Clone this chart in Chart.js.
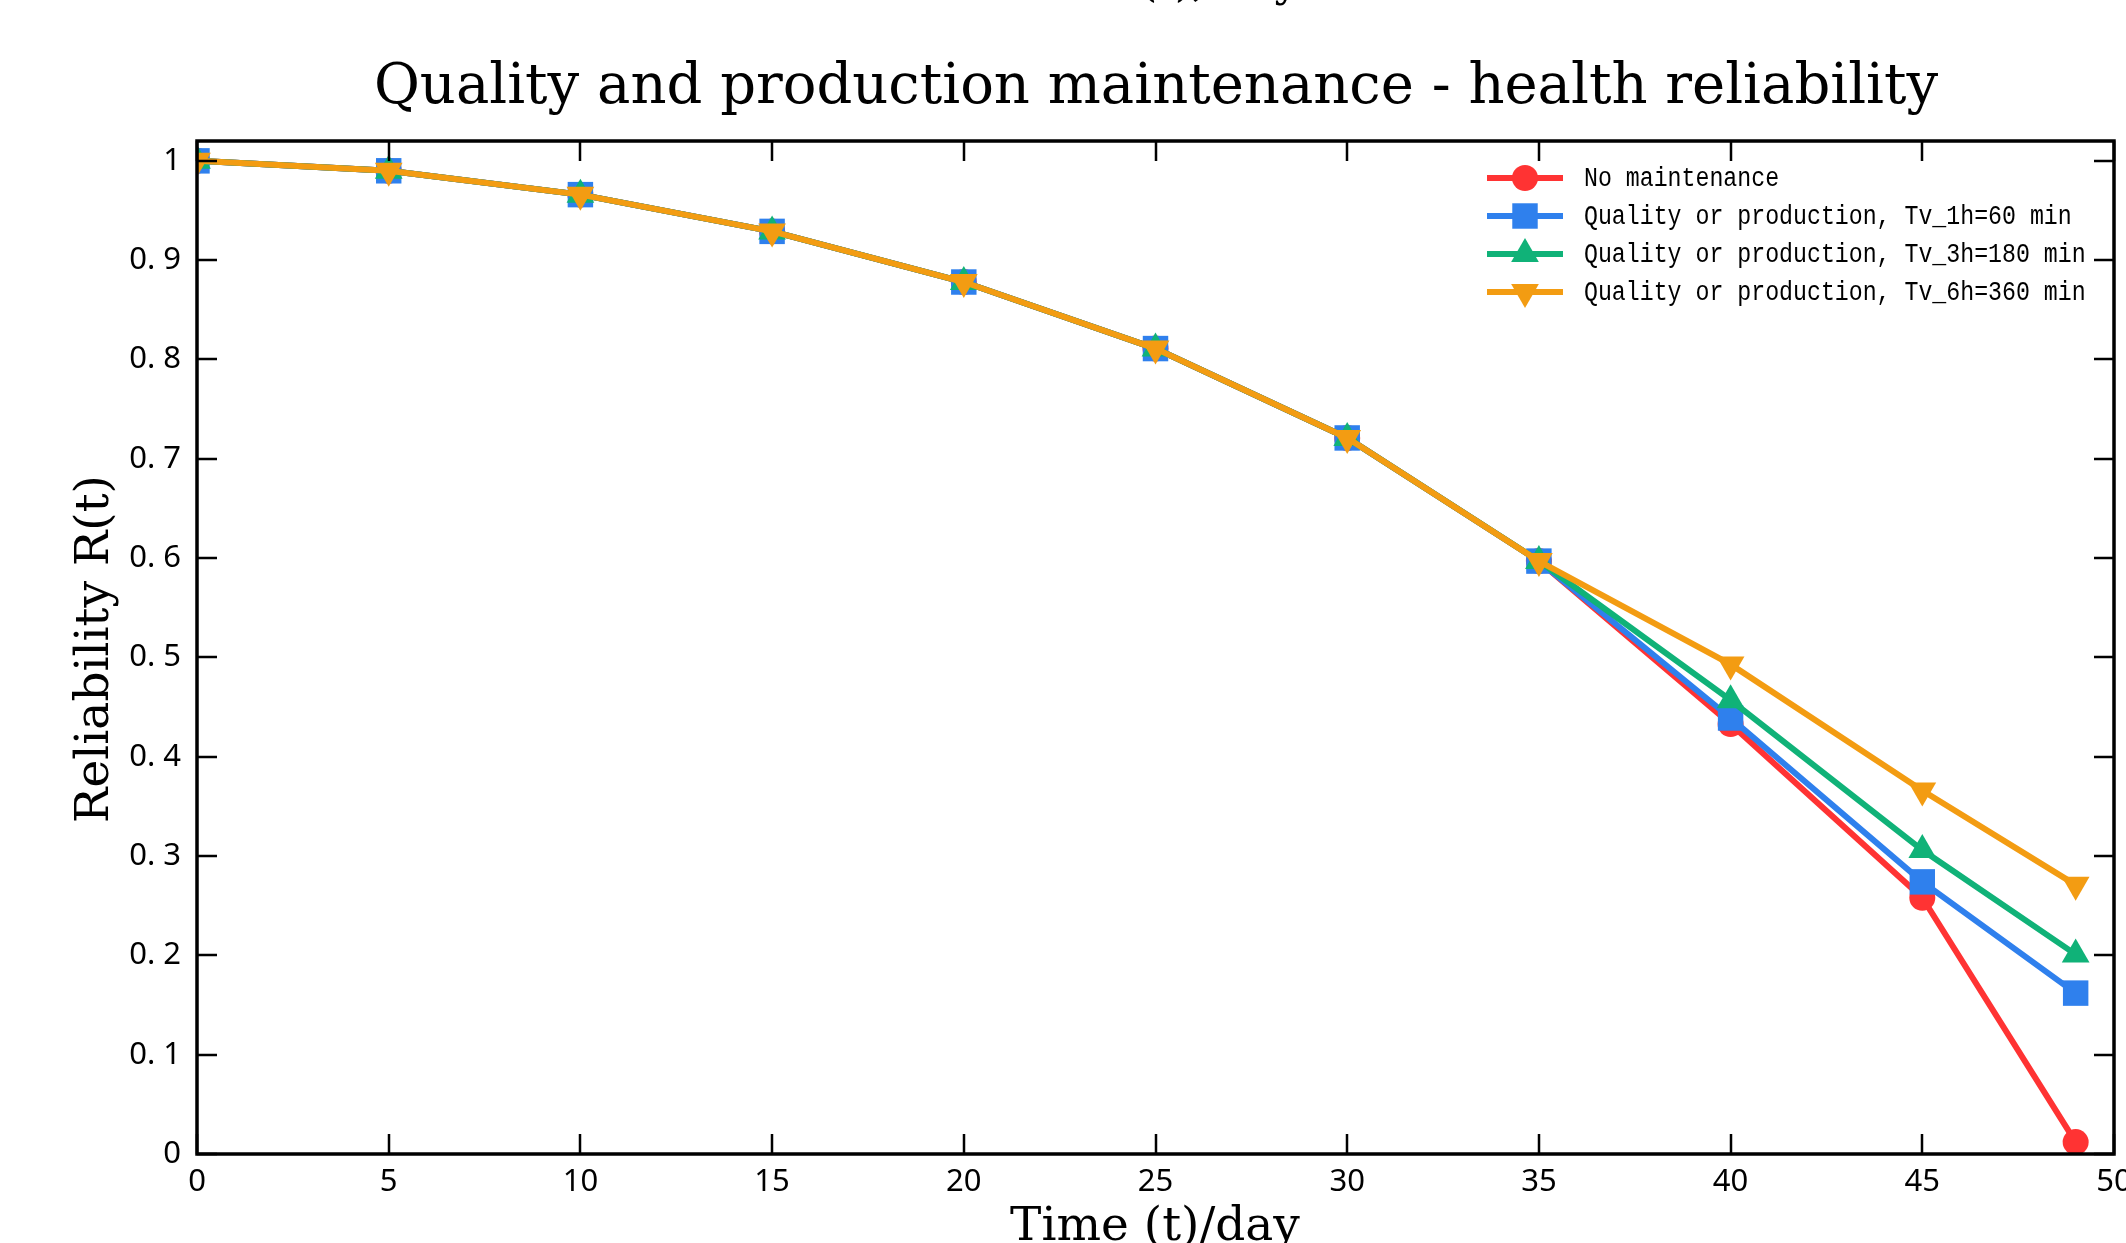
<!DOCTYPE html>
<html>
<head>
<meta charset="utf-8">
<title>Quality and production maintenance - health reliability</title>
<script src="https://cdn.jsdelivr.net/npm/chart.js@4/dist/chart.umd.min.js"></script>
<style>
  html, body { margin: 0; padding: 0; background: #fff; overflow: hidden; }
  canvas { display: block; }
</style>
</head>
<body>
<canvas id="reliabilityChart" width="2126" height="1243"></canvas>
<script>
// time points (days)
const days = [0, 5, 10, 15, 20, 25, 30, 35, 40, 45, 49];

const noMaintenance = [1.0, 0.990, 0.966, 0.929, 0.878, 0.811, 0.721, 0.597, 0.433, 0.258, 0.012];
const tv1h = [1.0, 0.990, 0.966, 0.929, 0.878, 0.811, 0.721, 0.597, 0.439, 0.274, 0.162];
const tv3h = [1.0, 0.990, 0.966, 0.929, 0.878, 0.811, 0.721, 0.597, 0.457, 0.306, 0.201];
const tv6h = [1.0, 0.990, 0.966, 0.929, 0.878, 0.811, 0.721, 0.597, 0.493, 0.366, 0.271];

const seriesNames = [
    'No maintenance',
    'Quality or production, Tv_1h=60 min',
    'Quality or production, Tv_3h=180 min',
    'Quality or production, Tv_6h=360 min'
];

const xTickValues = [0, 5, 10, 15, 20, 25, 30, 35, 40, 45, 50];
const xTickLabels = ['0', '5', '10', '15', '20', '25', '30', '35', '40', '45', '50'];
const yTickValues = [0, 0.1, 0.2, 0.3, 0.4, 0.5, 0.6, 0.7, 0.8, 0.9, 1];
const yTickLabels = ['0', '0. 1', '0. 2', '0. 3', '0. 4', '0. 5', '0. 6', '0. 7', '0. 8', '0. 9', '1'];

const colors = ['rgb(255,51,51)', 'rgb(47,128,237)', 'rgb(16,178,120)', 'rgb(243,156,18)'];
const markers = ['circle', 'rect', 'triangle', 'triangle'];
const markerSizes = [13, 18, 16, 16];
const markerRotation = [0, 0, 0, 180];

function toPoints(values) {
    return days.map((d, i) => ({ x: d, y: values[i] }));
}

const allSeries = [noMaintenance, tv1h, tv3h, tv6h];

const datasets = allSeries.map((values, i) => ({
    label: seriesNames[i],
    data: toPoints(values),
    borderColor: colors[i],
    backgroundColor: colors[i],
    borderWidth: 6,
    pointStyle: markers[i],
    pointRadius: markerSizes[i],
    pointRotation: markerRotation[i],
    pointBorderWidth: 0,
    pointHoverRadius: markerSizes[i],
    tension: 0,
    clip: 0,
    order: 4 - i // last series drawn on top
}));

// frame, inward ticks, titles and legend
const framePlugin = {
    id: 'framePlugin',
    afterDraw(chart) {
        const ctx = chart.ctx;
        const area = chart.chartArea;
        const xs = chart.scales.x;
        const ys = chart.scales.y;
        const tickLen = 20;
        ctx.save();
        ctx.strokeStyle = '#000';
        ctx.lineWidth = 2.5;
        ctx.beginPath();
        xTickValues.forEach(v => {
            const px = Math.round(xs.getPixelForValue(v));
            ctx.moveTo(px, area.bottom);
            ctx.lineTo(px, area.bottom - tickLen);
            ctx.moveTo(px, area.top);
            ctx.lineTo(px, area.top + tickLen);
        });
        yTickValues.forEach(v => {
            const py = Math.round(ys.getPixelForValue(v));
            ctx.moveTo(area.left, py);
            ctx.lineTo(area.left + tickLen, py);
            ctx.moveTo(area.right, py);
            ctx.lineTo(area.right - tickLen, py);
        });
        ctx.stroke();

        ctx.lineWidth = 3.5;
        ctx.strokeRect(area.left, area.top, area.right - area.left, area.bottom - area.top);

        // titles
        ctx.fillStyle = '#000';
        ctx.textAlign = 'left';
        ctx.textBaseline = 'alphabetic';
        ctx.font = '44px "DejaVu Serif"';
        ctx.fillText('(t), day', 1140, -4); // caption cut off at the top edge
        ctx.textAlign = 'center';
        ctx.textBaseline = 'middle';
        ctx.font = '56px "DejaVu Serif"';
        ctx.fillText('Quality and production maintenance - health reliability', 1156, 88);
        ctx.font = '47px "DejaVu Serif"';
        ctx.fillText('Time (t)/day', 1155, 1228);
        ctx.save();
        ctx.translate(96, 649);
        ctx.rotate(-Math.PI / 2);
        ctx.fillText('Reliability R(t)', 0, 0);
        ctx.restore();

        // legend
        const lx0 = 1487, lx1 = 1563, tx = 1584;
        const rows = [178, 216, 254, 292];
        ctx.textAlign = 'left';
        seriesNames.forEach((name, i) => {
            const y = rows[i];
            ctx.strokeStyle = colors[i];
            ctx.lineWidth = 6;
            ctx.beginPath();
            ctx.moveTo(lx0, y);
            ctx.lineTo(lx1, y);
            ctx.stroke();
            ctx.fillStyle = colors[i];
            Chart.helpers.drawPoint(ctx, {
                pointStyle: markers[i],
                rotation: markerRotation[i],
                radius: markerSizes[i],
                borderWidth: 0
            }, (lx0 + lx1) / 2, y);
            ctx.fillStyle = '#000';
            ctx.save();
            ctx.translate(tx, y + 1);
            ctx.scale(0.86, 1);
            ctx.font = '27px "Liberation Mono", "DejaVu Sans Mono", monospace';
            ctx.fillText(name, 0, 0);
            ctx.restore();
        });
        ctx.restore();
    }
};

new Chart(document.getElementById('reliabilityChart').getContext('2d'), {
    type: 'line',
    data: { datasets: datasets },
    options: {
        responsive: false,
        animation: false,
        devicePixelRatio: 1,
        layout: { autoPadding: false, padding: { top: 141, right: 12, left: 0, bottom: 0 } },
        plugins: {
            legend: { display: false },
            title: { display: false },
            tooltip: { enabled: false }
        },
        scales: {
            x: {
                type: 'linear',
                min: 0,
                max: 50,
                grid: { display: false },
                border: { display: false },
                afterBuildTicks: scale => { scale.ticks = xTickValues.map(v => ({ value: v })); },
                afterFit: scale => {
                    scale.height = 89;
                    scale.paddingLeft = 0;
                    scale.paddingRight = 0;
                },
                ticks: {
                    padding: 2,
                    maxRotation: 0,
                    autoSkip: false,
                    color: '#000',
                    font: { family: '"Noto Sans"', size: 31 },
                    callback: v => xTickLabels[xTickValues.indexOf(v)]
                }
            },
            y: {
                type: 'linear',
                min: 0,
                max: 1.02,
                grid: { display: false },
                border: { display: false },
                afterBuildTicks: scale => { scale.ticks = yTickValues.map(v => ({ value: v })); },
                afterFit: scale => {
                    scale.width = 197;
                    scale.paddingTop = 0;
                    scale.paddingBottom = 0;
                },
                ticks: {
                    padding: 8,
                    autoSkip: false,
                    color: '#000',
                    font: { family: '"Noto Sans"', size: 31 },
                    callback: v => yTickLabels[yTickValues.findIndex(t => Math.abs(t - v) < 1e-9)]
                }
            }
        }
    },
    plugins: [framePlugin]
});
</script>
</body>
</html>
